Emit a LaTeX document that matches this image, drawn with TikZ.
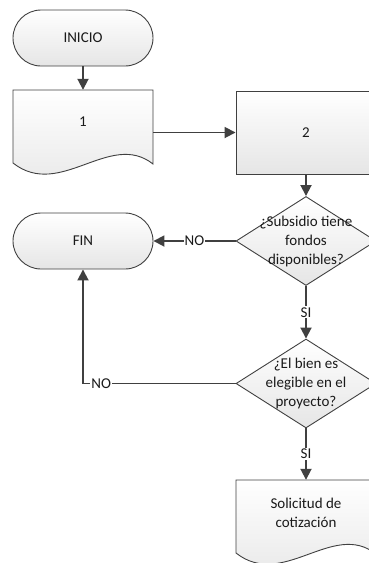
\documentclass[tikz,border=0pt]{standalone}
\usepackage{fontspec}
\setmainfont{Carlito}
\usetikzlibrary{shapes.geometric, arrows.meta}

\definecolor{lineagris}{HTML}{404040}
\definecolor{textogris}{HTML}{1A1A1A}

\tikzset{
	relleno/.style={top color=white, bottom color=black!10, draw=lineagris, line width=0.9pt},
	terminal/.style={relleno, rounded corners=28pt, minimum width=140pt, minimum height=56pt, inner sep=0pt},
	proceso/.style={relleno, minimum width=140pt, minimum height=83pt, inner sep=0pt},
	decision/.style={relleno, diamond, minimum width=140pt, minimum height=89pt, inner sep=0pt},
	flecha/.style={draw=lineagris, line width=1.8pt, -{Triangle[length=11pt,width=11pt]}},
	etiqueta/.style={fill=white, inner sep=1pt, text=textogris},
	texto/.style={align=center, text=textogris}
}

\begin{document}
\begin{tikzpicture}[x=1pt, y=-1pt, font=\fontsize{15}{19}\selectfont]
	\useasboundingbox (0,0) rectangle (369,563);
	\clip (0,0) rectangle (369,563);
	% terminales
	\node[terminal, texto] (inicio) at (83,38) {INICIO};
	\node[terminal, texto] (fin) at (83,241) {FIN};
	% documento 1
	\draw[relleno] (13,90) -- (153,90) -- (153,164) .. controls (110,130) and (60,200) .. (13,163) -- cycle;
	\node[minimum width=140pt, minimum height=85pt, inner sep=0pt] (doc1) at (83,132.5) {};
	\node[texto] (doc1txt) at (83,122) {1};
	% proceso 2
	\node[proceso, texto] (proc2) at (306,132.5) {2};
	% decisiones
	\node[decision] (dec1) at (306,241) {};
	\node[texto] (dec1txt) at (306,241) {¿Subsidio tiene\\fondos\\disponibles?};
	\node[decision] (dec2) at (306,383.5) {};
	\node[texto] (dec2txt) at (306,383.5) {¿El bien es\\elegible en el\\proyecto?};
	% documento 3
	\draw[relleno] (236,480) -- (376,480) -- (376,554) .. controls (333,520) and (283,590) .. (236,553) -- cycle;
	\node[minimum width=140pt, minimum height=85pt, inner sep=0pt] (doc3) at (306,522.5) {};
	\node[texto] (doc3txt) at (306,513) {Solicitud de\\cotización};
	% conectores
	\draw[flecha] (inicio) -- (doc1);
	\draw[flecha] (doc1) -- (proc2);
	\draw[flecha] (proc2) -- (dec1);
	\draw[flecha] (dec1) -- node[etiqueta]{NO} (fin);
	\draw[flecha] (dec1) -- node[etiqueta]{SI} (dec2);
	\draw[flecha] (dec2.west) -| node[etiqueta, pos=0.44]{NO} (fin.south);
	\draw[flecha] (dec2) -- node[etiqueta]{SI} (doc3);
\end{tikzpicture}
\end{document}
